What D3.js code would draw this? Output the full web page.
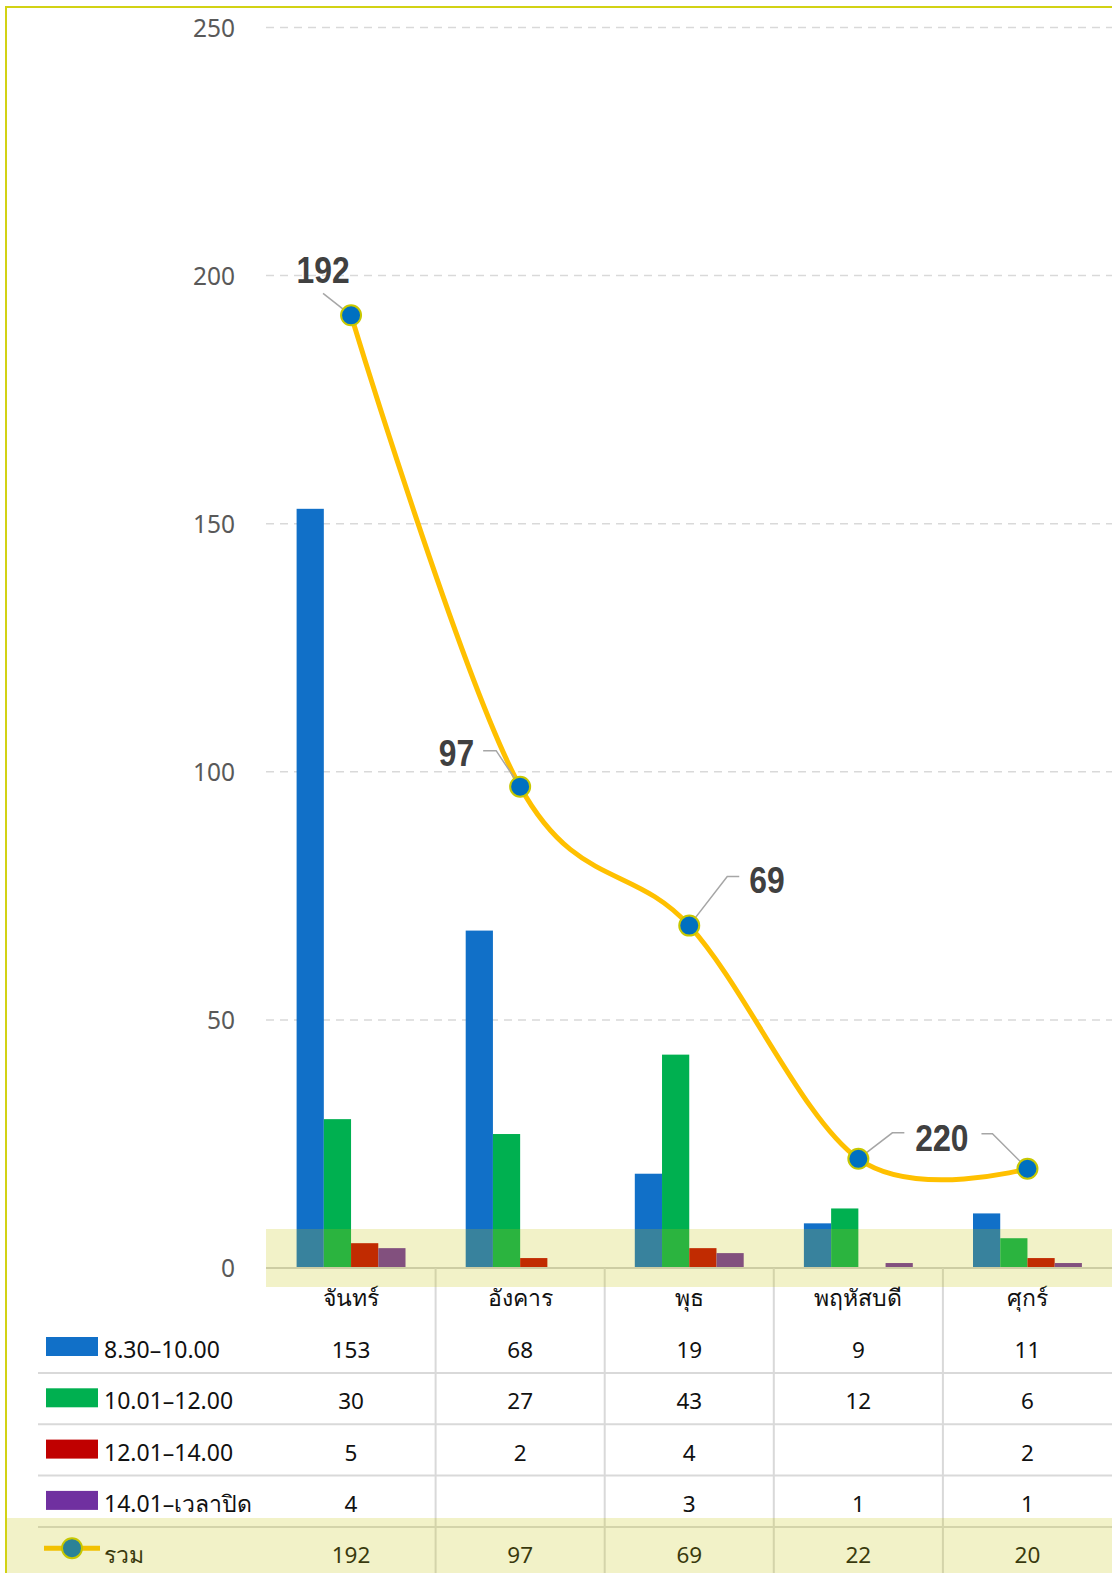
<!DOCTYPE html>
<html><head><meta charset="utf-8">
<script src="https://cdn.jsdelivr.net/npm/d3@7"></script>
<style>
html,body{margin:0;padding:0;background:#fff;}
svg{display:block;}
</style></head>
<body>
<script>
// ---------- data ----------
const categories = ["จันทร์", "อังคาร", "พุธ", "พฤหัสบดี", "ศุกร์"];
const seriesNames = ["8.30–10.00", "10.01–12.00", "12.01–14.00", "14.01–เวลาปิด"];
const s1 = [153, 68, 19, 9, 11];
const s2 = [30, 27, 43, 12, 6];
const s3 = [5, 2, 4, null, 2];
const s4 = [4, null, 3, 1, 1];
const totalName = "รวม";
const totals = [192, 97, 69, 22, 20];
const yTicks = [0, 50, 100, 150, 200, 250];
const seriesValues = [s1, s2, s3, s4];
const seriesColors = ["#1170c8", "#00b050", "#c00000", "#7030a0"];

// ---------- layout ----------
const W = 1112, H = 1573;
const svg = d3.select("body").append("svg").attr("width", W).attr("height", H);
const x = d3.scaleBand().domain(categories).range([266.5, 1112]);
const y = d3.scaleLinear().domain([0, 250]).range([1268, 27.5]);
const xi = d3.scaleBand().domain(d3.range(4)).range([x.bandwidth() * 0.178, x.bandwidth() * 0.822]);
const FONT = "'Noto Sans', 'DejaVu Sans', sans-serif";
const LFONT = "'Liberation Sans', Arial, sans-serif";
const overlayColor = "#c3c305", overlayOpacity = 0.22;

// border
svg.append("line").attr("x1", 6).attr("x2", 6).attr("y1", 7).attr("y2", H).attr("stroke", "#d2d214").attr("stroke-width", 2);
svg.append("line").attr("x1", 5).attr("x2", W).attr("y1", 7).attr("y2", 7).attr("stroke", "#d2d214").attr("stroke-width", 2);

// grid
const yAxis = d3.axisLeft(y).tickValues(yTicks).tickSize(0).tickPadding(0);
const gy = svg.append("g").attr("transform", "translate(235,0)").call(yAxis);
gy.select(".domain").remove();
gy.selectAll("text").attr("font-family", FONT).attr("font-size", 24.5).attr("fill", "#595959").attr("dy", "0.35em").attr("x", 0);
svg.append("g").selectAll("line").data(yTicks.filter(d => d > 0)).join("line")
  .attr("x1", 266).attr("x2", W).attr("y1", d => y(d)).attr("y2", d => y(d))
  .attr("stroke", "#d9d9d9").attr("stroke-width", 1.5).attr("stroke-dasharray", "8,6");

// bars
const barData = [];
seriesValues.forEach((arr, si) => arr.forEach((v, ci) => { if (v != null) barData.push({si, ci, v}); }));
svg.append("g").selectAll("rect").data(barData).join("rect")
  .attr("x", d => x(categories[d.ci]) + xi(d.si)).attr("width", xi.bandwidth())
  .attr("y", d => y(d.v)).attr("height", d => y(0) - y(d.v))
  .attr("fill", d => seriesColors[d.si]);

// axis line
svg.append("line").attr("x1", 266).attr("x2", W).attr("y1", y(0)).attr("y2", y(0)).attr("stroke", "#d0d0d0").attr("stroke-width", 2);

// table
const rowBase = i => 1358 + 51.3 * i;      // baselines for legend rows
const rowLine = i => 1373 + 51.3 * i;      // separators
svg.append("g").selectAll("line").data(categories.slice(1)).join("line")
  .attr("x1", d => x(d)).attr("x2", d => x(d)).attr("y1", y(0)).attr("y2", H)
  .attr("stroke", "#d9d9d9").attr("stroke-width", 2);
svg.append("g").selectAll("line").data(d3.range(4)).join("line")
  .attr("x1", 38).attr("x2", W).attr("y1", rowLine).attr("y2", rowLine)
  .attr("stroke", "#d9d9d9").attr("stroke-width", 2);

// category header
svg.append("g").selectAll("text").data(categories).join("text")
  .attr("x", d => x(d) + x.bandwidth() / 2).attr("y", 1306).attr("text-anchor", "middle")
  .attr("font-family", FONT).attr("font-size", 23).attr("fill", "#111").text(d => d);

// legend rows
seriesNames.forEach((name, si) => {
  const g = svg.append("g");
  g.append("rect").attr("x", 46).attr("y", rowBase(si) - 21).attr("width", 52).attr("height", 19).attr("fill", seriesColors[si]);
  g.append("text").attr("x", 104).attr("y", rowBase(si)).attr("font-family", FONT).attr("font-size", 23).attr("fill", "#111").text(name);
  g.selectAll("text.v").data(seriesValues[si]).join("text").attr("class", "v")
    .attr("x", (d, i) => x(categories[i]) + x.bandwidth() / 2).attr("y", rowBase(si)).attr("text-anchor", "middle")
    .attr("font-family", FONT).attr("font-size", 22.5).attr("fill", "#111").text(d => d == null ? "" : d);
});
// totals row
const tg = svg.append("g");
tg.append("line").attr("x1", 44).attr("x2", 100).attr("y1", rowBase(4) - 15).attr("y2", rowBase(4) - 15).attr("stroke", "#ffc000").attr("stroke-width", 5);
tg.append("circle").attr("cx", 72).attr("cy", rowBase(4) - 15).attr("r", 10).attr("fill", "#0070c0").attr("stroke", "#c8c800").attr("stroke-width", 2);
tg.append("text").attr("x", 104).attr("y", rowBase(4)).attr("font-family", FONT).attr("font-size", 23).attr("fill", "#111").text(totalName);
tg.selectAll("text.v").data(totals).join("text").attr("class", "v")
  .attr("x", (d, i) => x(categories[i]) + x.bandwidth() / 2).attr("y", rowBase(4)).attr("text-anchor", "middle")
  .attr("font-family", FONT).attr("font-size", 22.5).attr("fill", "#111").text(d => d);

// overlay bands
svg.append("rect").attr("x", 266).attr("width", W - 266).attr("y", 1229).attr("height", 58)
  .attr("fill", overlayColor).attr("opacity", overlayOpacity);
svg.append("rect").attr("x", 7).attr("width", W - 7).attr("y", 1518).attr("height", H - 1518)
  .attr("fill", overlayColor).attr("opacity", overlayOpacity);

// line
const pts = totals.map((v, i) => [x(categories[i]) + x.bandwidth() / 2, y(v)]);
svg.append("path").attr("d", d3.line().curve(d3.curveCardinal.tension(0))(pts))
  .attr("fill", "none").attr("stroke", "#ffc000").attr("stroke-width", 5);

// data labels with leaders (offsets relative to point)
const SX = 0.86, LSIZE = 37;
// measure one digit advance so that the Thursday/Friday labels overlap as in the original ("220")
const probe = svg.append("text").attr("font-family", LFONT).attr("font-weight", "bold").attr("font-size", LSIZE).text("2");
const digitW = probe.node().getComputedTextLength() * SX;
probe.remove();
const thuX = pts[3][0] + 57;
const labelLayout = [
  {anchor: "middle", dx: -28, dy: -32, leader: [[-28, -22]]},
  {anchor: "end", dx: -46, dy: -21, leader: [[-24, -36], [-37, -36]]},
  {anchor: "start", dx: 60, dy: -33, leader: [[38, -49], [50, -49]]},
  {anchor: "start", dx: 57, dy: -8, leader: [[34, -26], [46, -26]]},
  {anchor: "start", dx: thuX + digitW - pts[4][0], dy: pts[3][1] - 8 - pts[4][1], leader: [[-35, -35], [-46, -35]]}
];
const lg = svg.append("g");
pts.forEach((p, i) => {
  const L = labelLayout[i];
  const path = [p].concat(L.leader.map(o => [p[0] + o[0], p[1] + o[1]]));
  lg.append("path").attr("d", d3.line()(path)).attr("fill", "none").attr("stroke", "#a6a6a6").attr("stroke-width", 1.5);
});
svg.append("g").selectAll("circle").data(pts).join("circle")
  .attr("cx", d => d[0]).attr("cy", d => d[1]).attr("r", 10)
  .attr("fill", "#0070c0").attr("stroke", "#c8c800").attr("stroke-width", 2);
pts.forEach((p, i) => {
  const L = labelLayout[i];
  lg.append("text").attr("transform", `translate(${p[0] + L.dx},${p[1] + L.dy}) scale(${SX},1)`)
    .attr("text-anchor", L.anchor)
    .attr("font-family", LFONT).attr("font-weight", "bold").attr("font-size", LSIZE)
    .attr("fill", "#404040").text(totals[i]);
});
</script>
</body></html>
